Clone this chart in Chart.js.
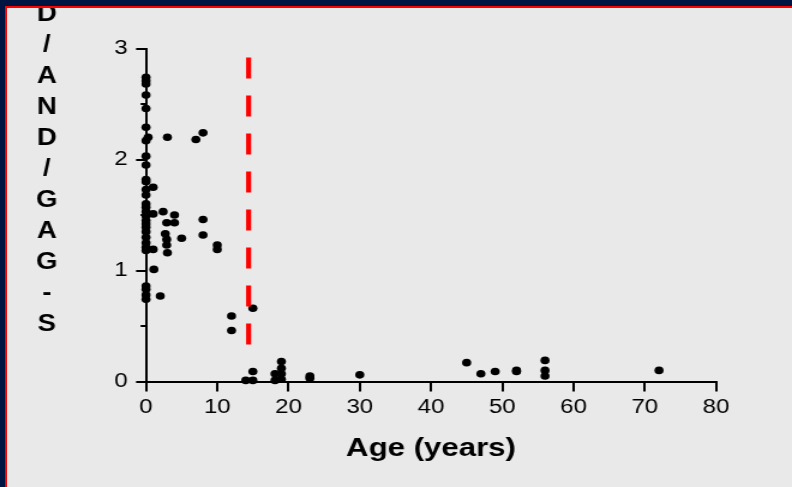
<!DOCTYPE html>
<html>
<head>
<meta charset="utf-8">
<script src="https://cdn.jsdelivr.net/npm/chart.js@4"></script>
<style>
  html, body { margin: 0; padding: 0; background: #e9e9e9; }
  #wrap { position: relative; width: 792px; height: 487px; overflow: hidden; }
  #studyChart { position: absolute; left: 0; top: 0; }
  .navy { position: absolute; left: 0; top: 0; width: 792px; height: 487px; box-sizing: border-box;
          border-top: 6px solid #001441; border-left: 5px solid #001441; pointer-events: none; }
  .red { position: absolute; left: 5px; top: 6px; width: 787px; height: 481px; box-sizing: border-box;
         border-top: 2px solid #ff0000; border-left: 2px solid #ff0000; pointer-events: none; }
</style>
</head>
<body>
<div id="wrap">
  <canvas id="studyChart" width="660" height="487" style="width:792px;height:487px"></canvas>
  <div class="navy"></div>
  <div class="red"></div>
</div>
<script>
// age (years) and D/AND/GAG-S ratio, one entry per patient
const ages = [
    0, 0, 0, 0, 0, 0, 0, 0, 0, 0, 0, 0, 0, 0, 0, 0, 0, 0, 0, 0,
    0, 0, 0, 0, 0, 0, 0, 0, 0,
    0.3, 1, 1, 1, 1.1, 2, 2.4, 2.7, 2.9, 2.9, 2.9, 3, 3,
    4, 4, 5, 7, 8, 8, 8, 10, 10,
    12, 12, 14, 15, 15, 15, 18.1, 18.1, 19, 19, 19, 19,
    23, 23, 30, 45, 47, 49, 52, 52, 56, 56, 56, 72,
];
const ratios = [
    2.74, 2.71, 2.68, 2.58, 2.46, 2.29, 2.17, 2.03, 1.95, 1.82, 1.8, 1.73, 1.68, 1.6, 1.57, 1.53, 1.45, 1.39, 1.35, 1.3,
    1.25, 1.18, 0.86, 0.83, 0.78, 0.74, 1.49, 1.42, 1.21,
    2.2, 1.75, 1.51, 1.19, 1.01, 0.77, 1.53, 1.33, 1.43, 1.28, 1.23, 1.16, 2.2,
    1.5, 1.43, 1.29, 2.18, 2.24, 1.46, 1.32, 1.23, 1.19,
    0.59, 0.46, 0.01, 0.66, 0.01, 0.09, 0.01, 0.07, 0.02, 0.07, 0.12, 0.18,
    0.05, 0.03, 0.06, 0.17, 0.07, 0.09, 0.1, 0.09, 0.19, 0.1, 0.05, 0.1,
];

// red dashed cut-off line
const cutoffX = [14.4, 14.4];
const cutoffY = [2.92, 0.33];

const yTitleLetters = ["D", "/", "A", "N", "D", "/", "G", "A", "G", "-", "S"];
const xTitle = "Age (years)";
const halfTicks = [0.5, 1.5, 2.5];

const SX = 792 / 660; // the picture is stretched sideways

const decor = {
    id: "decor",
    beforeDraw(chart) {
        const ctx = chart.ctx;
        ctx.save();
        ctx.fillStyle = "#e9e9e9";
        ctx.fillRect(0, 0, chart.width, chart.height);
        ctx.restore();
    },
    afterDraw(chart) {
        const ctx = chart.ctx;
        const y = chart.scales.y;
        ctx.save();
        // shorter ticks between labels
        ctx.strokeStyle = "#000";
        ctx.lineWidth = 2;
        halfTicks.forEach((v) => {
            const py = y.getPixelForValue(v);
            ctx.beginPath();
            ctx.moveTo(chart.chartArea.left - 4.5, py);
            ctx.lineTo(chart.chartArea.left, py);
            ctx.stroke();
        });
        // stacked y title
        ctx.fillStyle = "#000";
        ctx.font = "bold 23px 'Liberation Sans', Arial, sans-serif";
        ctx.textAlign = "center";
        ctx.textBaseline = "middle";
        yTitleLetters.forEach((ch, i) => {
            ctx.fillText(ch, 39, 15 + i * 31);
        });
        ctx.restore();
    },
};

const chart = new Chart(document.getElementById("studyChart"), {
    type: "scatter",
    data: {
        datasets: [
            {
                type: "line",
                data: cutoffX.map((x, i) => ({ x, y: cutoffY[i] })),
                borderColor: "#ff0000",
                borderWidth: 4.2,
                borderDash: [21, 17],
                pointRadius: 0,
                fill: false,
                order: 0,
            },
            {
                data: ages.map((x, i) => ({ x, y: ratios[i] })),
                backgroundColor: "#000",
                borderWidth: 0,
                pointRadius: 3.8,
                pointHoverRadius: 3.8,
                clip: false,
                order: 1,
            },
        ],
    },
    options: {
        responsive: false,
        animation: false,
        events: [],
        layout: { padding: { top: 48.5, right: 660 - 716 / SX, bottom: 0, left: 0 } },
        plugins: { legend: { display: false }, tooltip: { enabled: false } },
        scales: {
            x: {
                type: "linear",
                min: 0,
                max: 80,
                afterFit: (s) => { s.height = 105.5; },
                ticks: {
                    stepSize: 10,
                    color: "#000",
                    padding: 4,
                    font: { family: "'Liberation Sans', Arial, sans-serif", size: 20 },
                },
                grid: {
                    drawOnChartArea: false,
                    drawTicks: true,
                    tickLength: 10,
                    tickWidth: 2,
                    tickColor: "#000",
                    lineWidth: 2,
                },
                border: { display: true, color: "#000", width: 2 },
                title: {
                    display: true,
                    text: xTitle,
                    color: "#000",
                    padding: { top: 0, bottom: 22.4 },
                    font: { family: "'Liberation Sans', Arial, sans-serif", size: 26, weight: "bold" },
                },
            },
            y: {
                min: 0,
                max: 3,
                afterFit: (s) => { s.width = 146 / SX; },
                ticks: {
                    stepSize: 1,
                    color: "#000",
                    padding: 7,
                    font: { family: "'Liberation Sans', Arial, sans-serif", size: 20 },
                },
                grid: {
                    drawOnChartArea: false,
                    drawTicks: true,
                    tickLength: 8.3,
                    tickWidth: 2,
                    tickColor: "#000",
                    lineWidth: 2,
                },
                border: { display: true, color: "#000", width: 2 },
            },
        },
    },
    plugins: [decor],
});
</script>
</body>
</html>
